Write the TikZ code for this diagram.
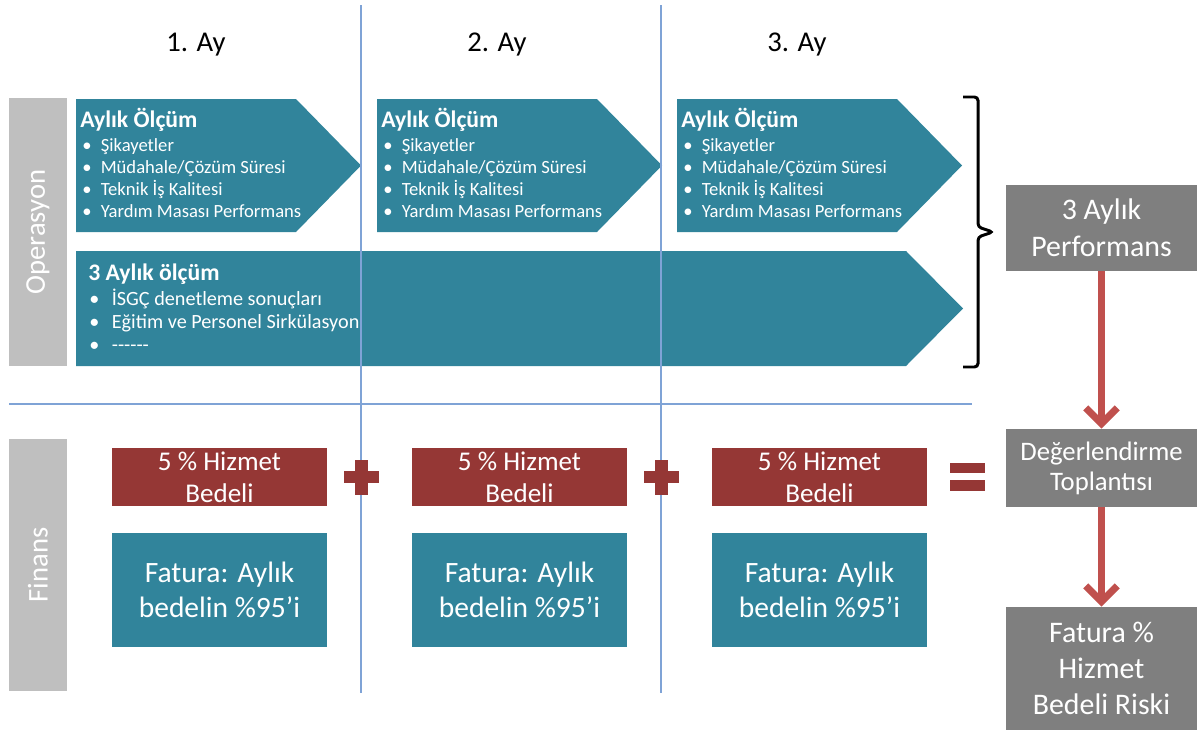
\documentclass[tikz,border=0pt]{standalone}
\usepackage{fontspec}
\setmainfont{Carlito}
\usetikzlibrary{arrows.meta, positioning}

\definecolor{chevblue}{HTML}{31849B}
\definecolor{feered}{HTML}{953735}
\definecolor{panelgray}{HTML}{7F7F7F}
\definecolor{sidegray}{HTML}{BFBFBF}
\definecolor{linkred}{HTML}{C0504D}
\definecolor{gridblue}{HTML}{7FA3D6}

\newcommand{\blt}[1][10.5pt]{\makebox[#1][l]{\textbullet}}

\begin{document}
\begin{tikzpicture}[x=0.02cm,y=-0.02cm,
	side/.style={fill=sidegray, text=white, rotate=90, minimum height=1.16cm, inner sep=0pt, font=\fontsize{16.3}{19}\selectfont},
	month/.style={font=\fontsize{16.3}{19}\selectfont},
	head/.style={text=white, inner sep=0pt, font=\bfseries\fontsize{13.5}{16}\selectfont},
	item/.style={text=white, inner sep=0pt, font=\fontsize{10.6}{12}\selectfont},
	fee/.style={fill=feered, text=white, minimum width=4.3cm, minimum height=1.16cm, inner sep=0pt, align=center, font=\fontsize{15.4}{18.2}\selectfont},
	bill/.style={fill=chevblue, text=white, minimum width=4.3cm, minimum height=2.28cm, inner sep=0pt, align=center, font=\fontsize{16.8}{20}\selectfont},
	result/.style={fill=panelgray, text=white, minimum width=3.82cm, inner sep=0pt, align=center},
	flow/.style={draw=linkred, line width=4pt, -{Straight Barb[length=9pt, width=18pt]}},
	grid/.style={draw=gridblue, line width=1.1pt},
	sign/.style={fill=feered}]

	\useasboundingbox (0,0) rectangle (1200,734);

	% side labels
	\node[side, minimum width=5.36cm] (ops) at (38,232) {Operasyon};
	\node[side, minimum width=5.04cm] (fin) at (38,565) {Finans};

	% month titles
	\node[month] (m1) at (196,45) {1. Ay};
	\node[month] (m2) at (497,45) {2. Ay};
	\node[month] (m3) at (797,45) {3. Ay};

	% monthly measurement chevrons
	\foreach \dx [count=\m] in {0,301,601} {
		\begin{scope}[shift={(\dx,0)}]
			\fill[chevblue] (76,99) -- (296,99) -- (361,165.5) -- (296,232) -- (76,232) -- cycle;
			\node[head, anchor=base west] (mhead\m) at (80,127) {Aylık Ölçüm};
			\foreach \txt [count=\i] in {Şikayetler, Müdahale/Çözüm Süresi, Teknik İş Kalitesi, Yardım Masası Performans}
				\node[item, anchor=base west] (mitem\m\i) at (82,129+22*\i) {\blt\txt};
		\end{scope}
	}

	% quarterly measurement chevron
	\fill[chevblue] (76,251) -- (906,251) -- (963,308.5) -- (906,366) -- (76,366) -- cycle;
	\node[head, anchor=base west] (qhead) at (88,280) {3 Aylık ölçüm};
	\foreach \txt [count=\i] in {İSGÇ denetleme sonuçları, Eğitim ve Personel Sirkülasyon, -{}-{}-{}-{}-{}-}
		\node[item, font=\fontsize{11.5}{13}\selectfont, anchor=base west] (qitem\i) at (89,282+23*\i) {\blt[12.8pt]\txt};

	% brace
	\draw[line width=1.7pt, rounded corners=2pt] (963,97) -- (978,97) -- (978,227) -- (993,232) -- (978,237) -- (978,367) -- (963,367);

	% fees and invoices
	\node[fee] (fee1) at (219.5,477) {5 \% Hizmet\\Bedeli};
	\node[fee] (fee2) at (519.5,477) {5 \% Hizmet\\Bedeli};
	\node[fee] (fee3) at (819.5,477) {5 \% Hizmet\\Bedeli};
	\node[bill] (bill1) at (219.5,590) {Fatura: Aylık\\bedelin \%95’i};
	\node[bill] (bill2) at (519.5,590) {Fatura: Aylık\\bedelin \%95’i};
	\node[bill] (bill3) at (819.5,590) {Fatura: Aylık\\bedelin \%95’i};

	% grid lines
	\draw[grid] (361,5) -- (361,693);
	\draw[grid] (661,5) -- (661,693);
	\draw[grid] (9,404) -- (972,404);

	% plus and equals signs
	\foreach \px in {361,661} {
		\fill[sign] (\px-17.5,471) rectangle (\px+17.5,483);
		\fill[sign] (\px-6.5,459.5) rectangle (\px+6.5,494.5);
	}
	\fill[sign] (950,463) rectangle (985,473);
	\fill[sign] (950,480) rectangle (985,491);

	% results column
	\node[result, minimum height=1.72cm, font=\fontsize{17}{21}\selectfont] (perf) at (1101.5,228) {3 Aylık\\Performans};
	\node[result, minimum height=1.56cm, font=\fontsize{15.2}{17}\selectfont] (eval) at (1101.5,468) {Değerlendirme\\Toplantısı};
	\node[result, minimum height=2.46cm, font=\fontsize{17}{20.5}\selectfont] (risk) at (1101.5,668.5) {Fatura \%\\Hizmet\\Bedeli Riski};

	\draw[flow] (perf) -- (eval);
	\draw[flow] (eval) -- (risk);

\end{tikzpicture}
\end{document}
